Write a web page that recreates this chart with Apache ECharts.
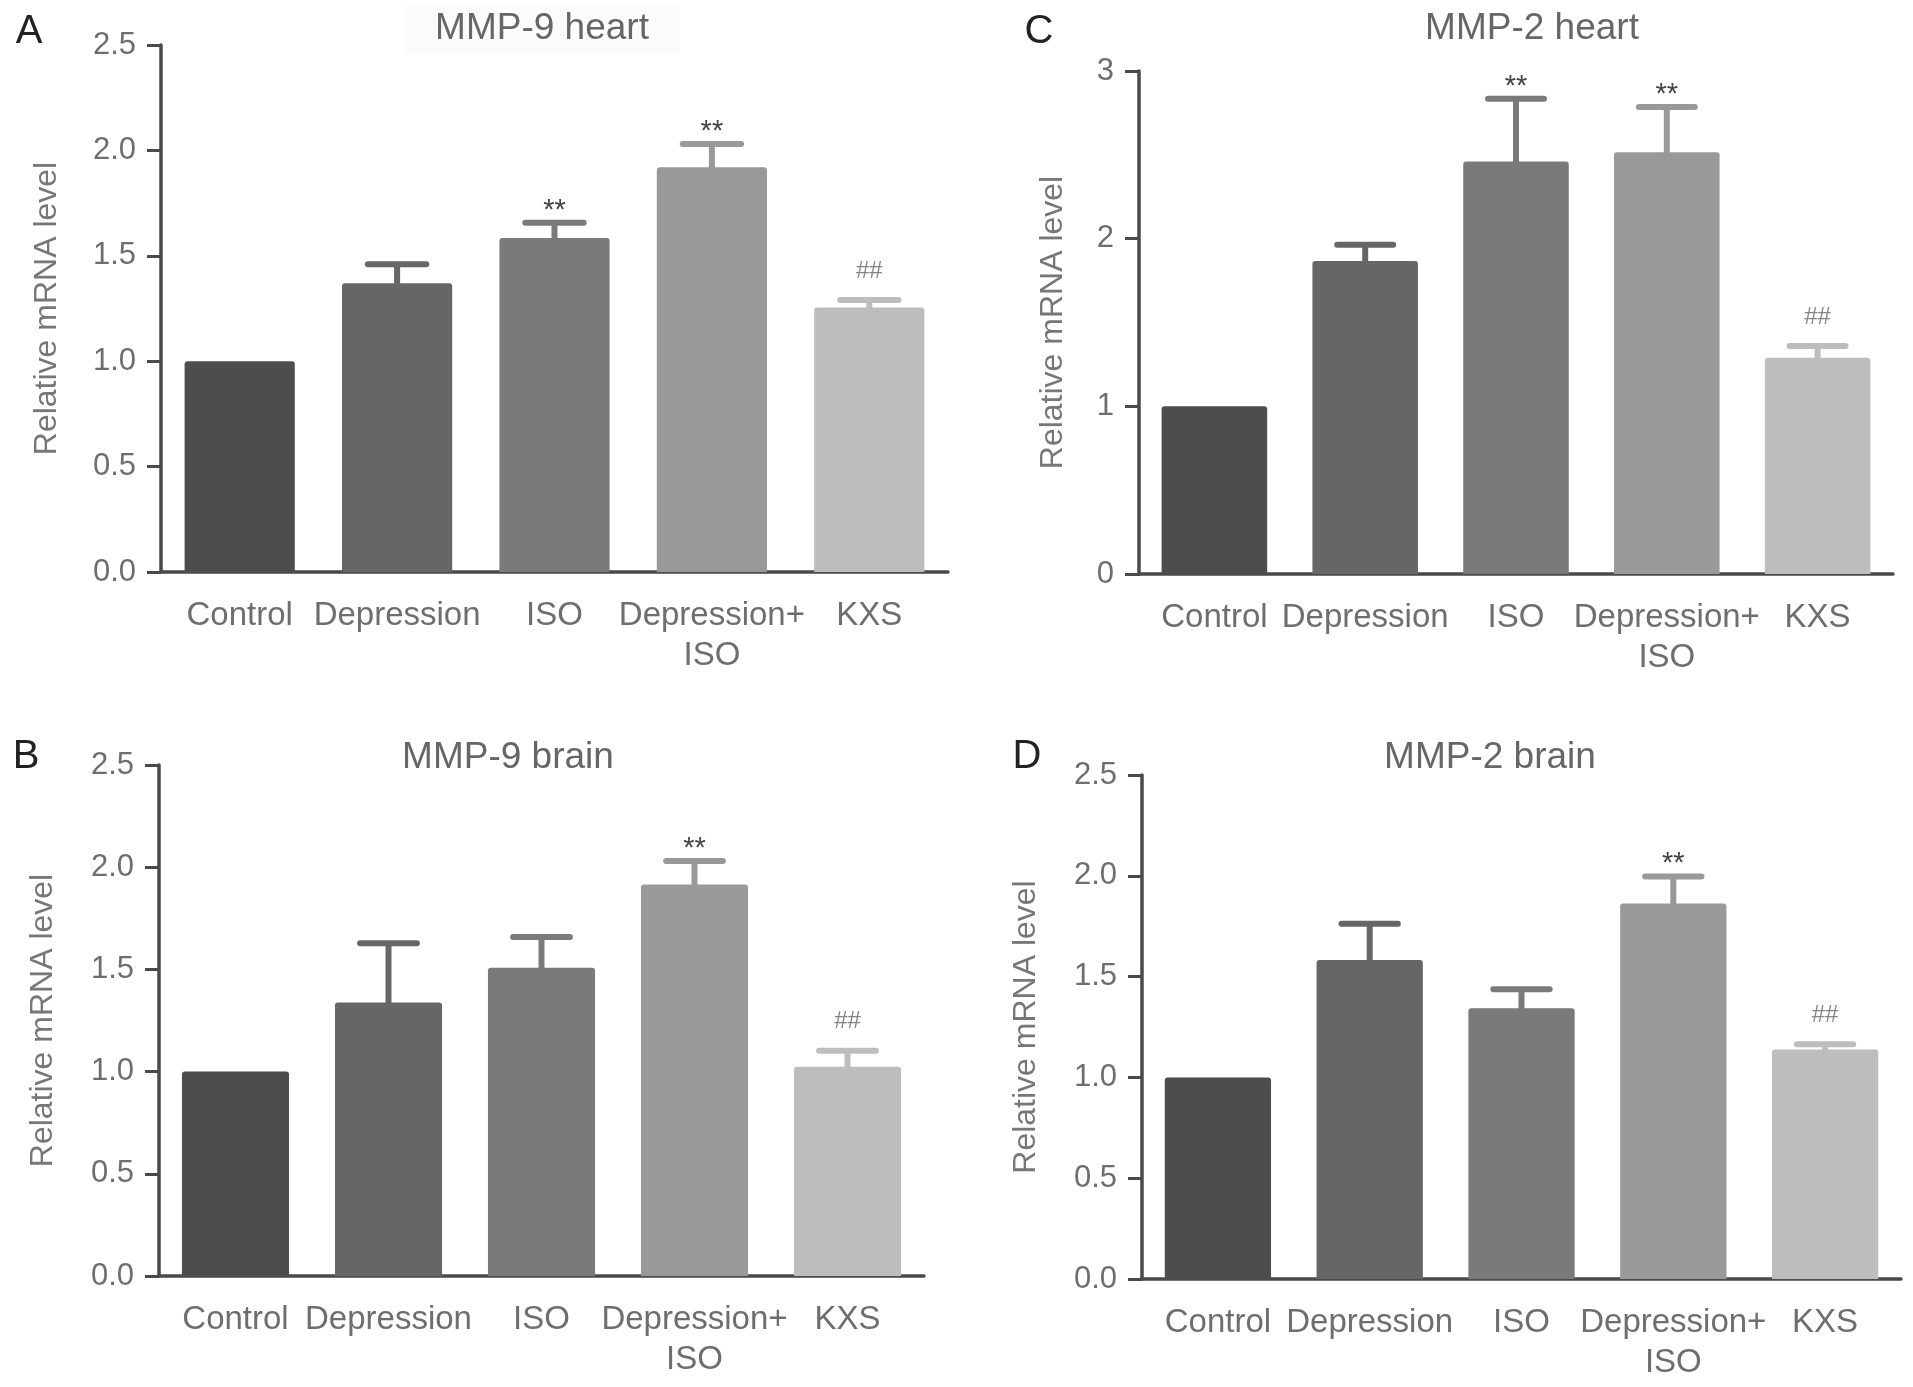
<!DOCTYPE html>
<html>
<head>
<meta charset="utf-8">
<script src="https://cdn.jsdelivr.net/npm/echarts@6/dist/echarts.min.js"></script>
<style>
html,body{margin:0;padding:0;background:#fff;}
#chart{width:1913px;height:1387px;}
</style>
</head>
<body>
<div id="chart"></div>
<script>
// ---------------- data ----------------
const categories = ['Control', 'Depression', 'ISO', 'Depression+\nISO', 'KXS'];
const barColors = ['#4d4d4d', '#666666', '#7a7a7a', '#999999', '#bdbdbd'];

// A: MMP-9 heart
const mmp9HeartMean = [1.0, 1.37, 1.585, 1.92, 1.255];
const mmp9HeartErr  = [0, 0.09, 0.072, 0.11, 0.035];
const mmp9HeartSig  = ['', '', '**', '**', '##'];

// C: MMP-2 heart
const mmp2HeartMean = [1.0, 1.867, 2.46, 2.515, 1.29];
const mmp2HeartErr  = [0, 0.097, 0.375, 0.27, 0.07];
const mmp2HeartSig  = ['', '', '**', '**', '##'];

// B: MMP-9 brain
const mmp9BrainMean = [1.0, 1.338, 1.508, 1.915, 1.024];
const mmp9BrainErr  = [0, 0.29, 0.15, 0.115, 0.078];
const mmp9BrainSig  = ['', '', '', '**', '##'];

// D: MMP-2 brain
const mmp2BrainMean = [1.0, 1.582, 1.343, 1.862, 1.139];
const mmp2BrainErr  = [0, 0.18, 0.094, 0.135, 0.026];
const mmp2BrainSig  = ['', '', '', '**', '##'];

const yTicksA = [0, 0.5, 1.0, 1.5, 2.0, 2.5];
const yTicksC = [0, 1, 2, 3];

// ---------------- layout ----------------
const FONT = '"Liberation Sans", Arial, Helvetica, sans-serif';
const panels = [
  { letter: 'A', title: 'MMP-9 heart', mean: mmp9HeartMean, err: mmp9HeartErr, sig: mmp9HeartSig,
    grid: { left: 161, top: 45, width: 787, height: 527 }, ticks: yTicksA, nameGap: 98,
    titlePos: [542, 29], letterPos: [29, 32], titleBg: true },
  { letter: 'C', title: 'MMP-2 heart', mean: mmp2HeartMean, err: mmp2HeartErr, sig: mmp2HeartSig,
    grid: { left: 1139, top: 71, width: 754, height: 503 }, ticks: yTicksC, nameGap: 70,
    titlePos: [1532, 29], letterPos: [1039, 32] },
  { letter: 'B', title: 'MMP-9 brain', mean: mmp9BrainMean, err: mmp9BrainErr, sig: mmp9BrainSig,
    grid: { left: 159, top: 765, width: 765, height: 511 }, ticks: yTicksA, nameGap: 100,
    titlePos: [508, 758], letterPos: [26, 757] },
  { letter: 'D', title: 'MMP-2 brain', mean: mmp2BrainMean, err: mmp2BrainErr, sig: mmp2BrainSig,
    grid: { left: 1142, top: 775, width: 759, height: 504 }, ticks: yTicksA, nameGap: 100,
    titlePos: [1490, 758], letterPos: [1027, 757] }
];

const axisColor = '#4a4a4a';
const grids = [], xAxes = [], yAxes = [], series = [], graphics = [];

panels.forEach((p, i) => {
  grids.push(p.grid);
  const tks = p.ticks;
  const decimals = (tks[1] - tks[0]) < 1 ? 1 : 0;
  xAxes.push({
    type: 'category', gridIndex: i, data: categories,
    boundaryGap: true,
    axisLine: { lineStyle: { color: axisColor, width: 3.5 } },
    axisTick: { alignWithLabel: true, interval: 0, length: 14, lineStyle: { color: axisColor, width: 3 } },
    axisLabel: { interval: 0, margin: 24, color: '#6e6e6e', fontSize: 33, fontFamily: FONT, lineHeight: 40 }
  });
  yAxes.push({
    type: 'value', gridIndex: i, min: tks[0], max: tks[tks.length - 1], interval: tks[1] - tks[0],
    splitLine: { show: false },
    axisLine: { show: true, lineStyle: { color: axisColor, width: 3.5 } },
    axisTick: { show: true, length: 14, lineStyle: { color: axisColor, width: 3 } },
    axisLabel: { margin: 25, color: '#6e6e6e', fontSize: 31, fontFamily: FONT,
      formatter: v => v.toFixed(decimals) },
    name: 'Relative mRNA level', nameLocation: 'middle', nameGap: p.nameGap,
    nameTextStyle: { color: '#777777', fontSize: 32, fontFamily: FONT }
  });
  series.push({
    type: 'bar', xAxisIndex: i, yAxisIndex: i, barWidth: '70%',
    data: p.mean.map((v, k) => ({ value: v, itemStyle: { color: barColors[k], borderRadius: [3, 3, 0, 0] } })),
    animation: false, z: 2
  });
  series.push({
    type: 'custom', xAxisIndex: i, yAxisIndex: i, z: 3, animation: false,
    data: p.mean.map((v, k) => [k, v, p.err[k]]),
    renderItem: (params, api) => {
      const k = api.value(0), m = api.value(1), e = api.value(2);
      const base = api.coord([k, m]);
      const top = api.coord([k, m + e]);
      const bw = api.size([1, 0])[0] * 0.7;
      const capHalf = bw * 0.265;
      const col = barColors[k];
      const children = [];
      if (e > 0) {
        children.push({ type: 'line', shape: { x1: base[0], y1: base[1] + 2, x2: top[0], y2: top[1] },
          style: { stroke: col, lineWidth: 6 } });
        children.push({ type: 'line', shape: { x1: top[0] - capHalf, y1: top[1], x2: top[0] + capHalf, y2: top[1] },
          style: { stroke: col, lineWidth: 6, lineCap: 'round' } });
      }
      const s = p.sig[k];
      if (s) {
        const isStar = s.indexOf('*') >= 0;
        children.push({ type: 'text', x: top[0], y: top[1] - (isStar ? 12 : 29),
          style: { text: s, textAlign: 'center', textVerticalAlign: 'middle',
            fontSize: isStar ? 29 : 24, fontFamily: FONT, fill: isStar ? '#444444' : '#858585' } });
      }
      return { type: 'group', children };
    }
  });
  graphics.push({ type: 'text', x: p.titlePos[0], y: p.titlePos[1],
    style: { text: p.title, textAlign: 'center', textVerticalAlign: 'middle', fontSize: 37,
      fontFamily: FONT, fill: '#666666',
      backgroundColor: p.titleBg ? '#fbfbfb' : null, padding: p.titleBg ? [6, 30] : 0 } });
  graphics.push({ type: 'text', x: p.letterPos[0], y: p.letterPos[1],
    style: { text: p.letter, textAlign: 'center', textVerticalAlign: 'middle', fontSize: 40,
      fontFamily: FONT, fill: '#222222' } });
});

const chart = echarts.init(document.getElementById('chart'), null, { renderer: 'canvas' });
chart.setOption({
  backgroundColor: '#ffffff',
  animation: false,
  grid: grids, xAxis: xAxes, yAxis: yAxes, series: series, graphic: graphics
});
</script>
</body>
</html>
